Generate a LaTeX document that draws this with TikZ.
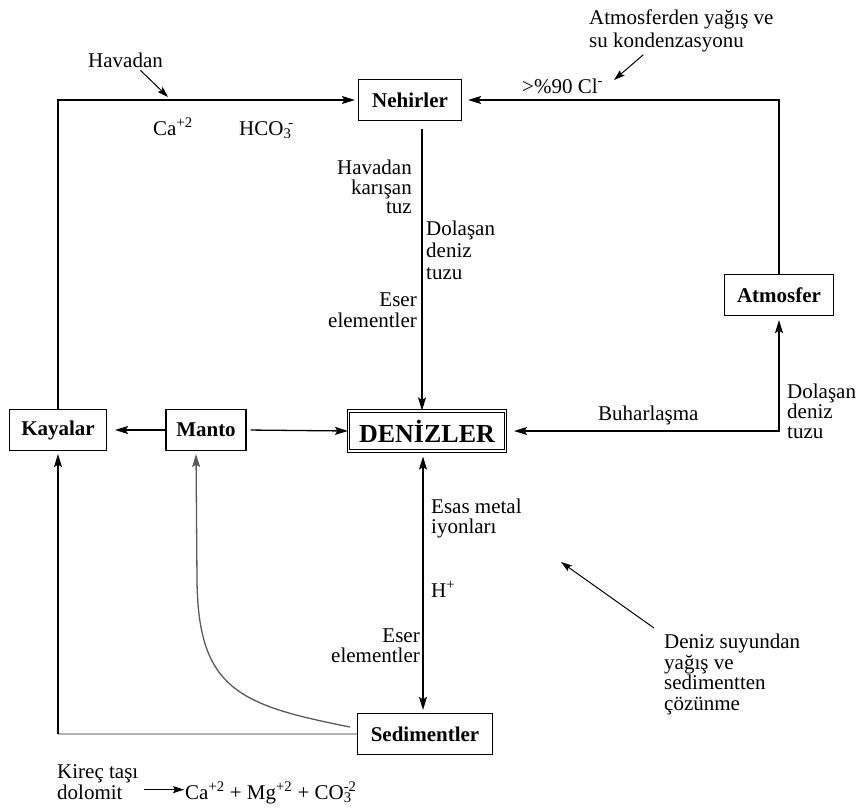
\documentclass[tikz,border=0pt]{standalone}
\usepackage{fontspec}
\setmainfont{Liberation Serif}
\usepackage{tikz}
\usetikzlibrary{arrows.meta}

\begin{document}
\begin{tikzpicture}[
  x=1pt, y=-1pt,
  every node/.style={font=\fontsize{21}{22}\selectfont, inner sep=0pt},
  nodebox/.style={draw, line width=1.2pt, align=center, minimum height=41pt, font=\fontsize{21}{22}\selectfont\bfseries},
  seabox/.style={draw, double, double distance=1.2pt, line width=1.1pt, minimum height=40pt, minimum width=157pt, font=\fontsize{26}{28}\selectfont\bfseries},
  note/.style={align=left, anchor=north west},
  noter/.style={align=right, anchor=north east},
  arrow/.style={-{Stealth[length=13pt,width=8pt,inset=2.5pt]}, line width=1.3pt},
  dblarrow/.style={{Stealth[length=13pt,width=8pt,inset=2.5pt]}-{Stealth[length=13pt,width=8pt,inset=2.5pt]}, line width=1.3pt},
  thinarrow/.style={-{Stealth[length=11pt,width=7pt,inset=2pt]}, line width=1pt}
]
\useasboundingbox (0,0) rectangle (862,808);

\node[nodebox, minimum width=103pt] (neh) at (410,100) {Nehirler};
\node[nodebox, minimum width=97pt] (kay) at (58,430) {Kayalar};
\node[nodebox, minimum width=80pt] (man) at (206,430) {Manto};
\node[seabox] (den) at (427,431) {DENİZLER};
\node[nodebox, minimum width=109pt] (atm) at (779,295) {Atmosfer};
\node[nodebox, minimum width=135pt] (sed) at (425,734) {Sedimentler};

% labels
\node[anchor=base west] (hav) at (88,67) {Havadan};
\node[anchor=base west] (ca) at (153,135) {Ca\textsuperscript{+2}};
\node[anchor=base west] (hco) at (239,135) {HCO\rlap{\textsubscript{3}}\textsuperscript{\,\,-}};
\node[anchor=base west] (cl) at (522,93) {>\%90 Cl\textsuperscript{-}};
\node[note, font=\fontsize{21}{23}\selectfont] (atmtxt) at (589,10) {Atmosferden yağış ve\\su kondenzasyonu};
\node[noter, font=\fontsize{21}{19.5}\selectfont] (havtuz) at (412,160) {Havadan\\karışan\\tuz};
\node[note] (dol1) at (426,221) {Dolaşan\\deniz\\tuzu};
\node[noter, font=\fontsize{21}{21}\selectfont] (eser1) at (417,293) {Eser\\elementler};
\node[anchor=base west] (buhar) at (598,420) {Buharlaşma};
\node[note, font=\fontsize{21}{20}\selectfont] (dol2) at (787,384) {Dolaşan\\deniz\\tuzu};
\node[note, font=\fontsize{21}{20}\selectfont] (esas) at (431,499) {Esas metal\\iyonları};
\node[anchor=base west] (hplus) at (431,597) {H\textsuperscript{+}};
\node[noter, font=\fontsize{21}{20}\selectfont] (eser2) at (420,629) {Eser\\elementler};
\node[note, font=\fontsize{21}{20.5}\selectfont] (deniz) at (664,634) {Deniz suyundan\\yağış ve\\sedimentten\\çözünme};
\node[note, font=\fontsize{21}{21}\selectfont] (kirec) at (57,764) {Kireç taşı\\dolomit};
\node[anchor=base west] (formula) at (185,799) {Ca\textsuperscript{+2} + Mg\textsuperscript{+2} + CO\rlap{\textsubscript{3}}\textsuperscript{-2}};

\coordinate (havtip) at (168,97);
\coordinate (cltip) at (614,80);
\coordinate (dentip) at (561,562);
\coordinate (sk) at (kay.south |- sed.west);
\coordinate (ka) at ([yshift=3pt]formula.west);

\draw[arrow, shorten >=3pt] (kay.north) |- (neh.west);
\draw[arrow, shorten >=6pt] (atm.north) |- (neh.east);
\draw[arrow, shorten <=8pt] ([xshift=12pt]neh.south) -- ([xshift=-5pt]den.north);
\draw[arrow, shorten >=8pt] (man.west) -- (kay.east);
\draw[arrow, shorten <=4pt] (man.east) -- (den.west);
\draw[dblarrow, shorten <=8pt, shorten >=4pt] (den.east) -| (atm.south);
\draw[dblarrow, shorten <=5pt, shorten >=3pt] ([xshift=-4pt]den.south) -- ([xshift=-2pt]sed.north);
\draw[line width=1.3pt, gray!60] (sed.west) -- (sk);
\draw[arrow, shorten >=3pt] (sk) -- (kay.south);
\draw[arrow, black!65, shorten >=3pt] ([xshift=-7pt,yshift=7pt]sed.west) .. controls (240,705) and (198,690) .. (197,580) -- ([xshift=-10pt]man.south);

\draw[thinarrow] ([xshift=15pt,yshift=-3pt]hav.south) -- (havtip);
\draw[thinarrow] ([xshift=-38pt,yshift=-2pt]atmtxt.south) -- (cltip);
\draw[thinarrow] ([xshift=-10pt,yshift=6pt]deniz.north west) -- (dentip);
\draw[thinarrow, shorten <=6pt, shorten >=1pt] (kirec.east |- ka) -- (ka);
\end{tikzpicture}
\end{document}
